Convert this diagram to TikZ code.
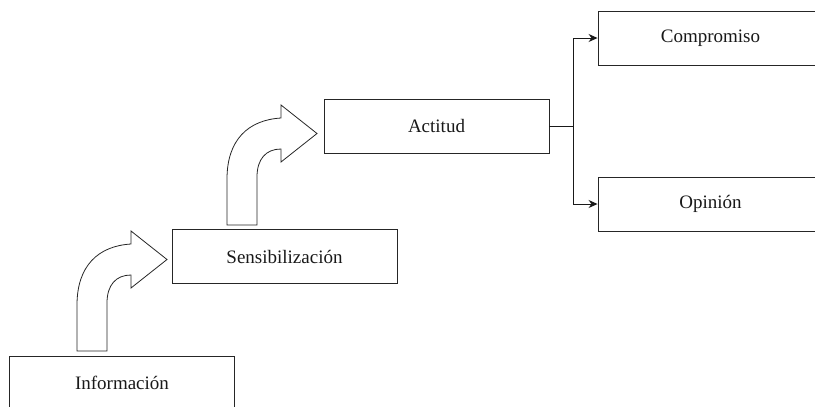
\documentclass[tikz,border=0pt]{standalone}
\usepackage{fontspec}
\setmainfont{Liberation Serif}
\usetikzlibrary{arrows.meta}
\begin{document}
\begin{tikzpicture}[x=1bp,y=-1bp,
  stagebox/.style={draw=black!85,line width=0.9bp,minimum width=225bp,minimum height=54bp,inner sep=0pt,
    font=\fontsize{19bp}{23bp}\selectfont,text=black!90},
  blockarrow/.style={draw=black!85,line width=0.8bp,fill=white,line join=miter},
  link/.style={draw=black!90,line width=0.9bp,-{Stealth[length=9bp,width=8bp]}}]
\useasboundingbox (0,0) rectangle (815,406);
\clip (0,0) rectangle (815,406);
\node[stagebox] (info) at (122,383) {Información};
\node[stagebox] (sens) at (284.5,256.5) {Sensibilización};
\node[stagebox] (act) at (436.5,126) {Actitud};
\node[stagebox] (comp) at (710.5,38) {Compromiso};
\node[stagebox] (opin) at (710.5,204) {Opinión};
% block arrows
\foreach \dx/\dy in {0/0,150/-126}{
\begin{scope}[shift={(\dx,\dy)}]
\draw[blockarrow] (77,351) -- (77,305) .. controls (77,266) and (98,246) .. (131,244)
  -- (131,231) -- (167,259.5) -- (131,288) -- (131,275)
  .. controls (116,275) and (107,285) .. (107,303) -- (107,351) -- cycle;
\end{scope}}
% connectors
\coordinate (j) at (573,126);
\draw[line width=0.9bp,black!90] (act.east) -- (j);
\draw[link] (j) |- (comp.west);
\draw[link] (j) |- (opin.west);
\end{tikzpicture}
\end{document}
